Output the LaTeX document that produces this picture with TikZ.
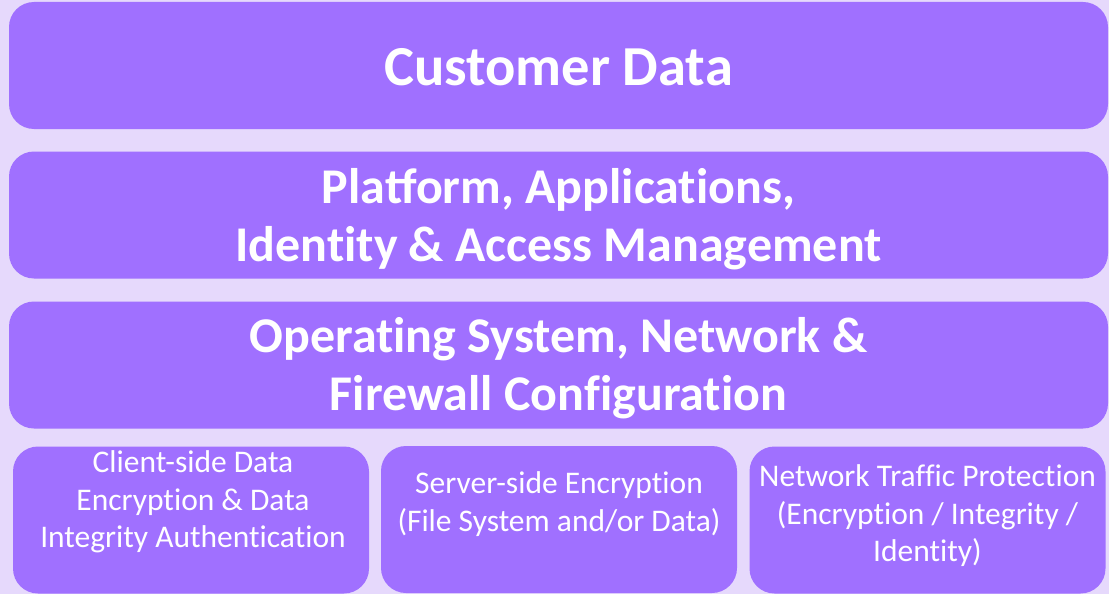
\documentclass[tikz,border=0pt]{standalone}
\usepackage{fontspec}
\setmainfont{Carlito}
\newcommand{\nolig}{\kern0pt}
\definecolor{layerfill}{HTML}{A070FF}
\definecolor{pagebg}{HTML}{E6D9FC}
\begin{document}
\begin{tikzpicture}[x=1pt, y=-1pt,
    layer/.style={fill=layerfill, rounded corners=25pt, inner sep=0pt, minimum width=1099pt, minimum height=127pt},
    sublayer/.style={fill=layerfill, rounded corners=25pt, inner sep=0pt, minimum width=356pt, minimum height=147pt},
    bigtext/.style={text=white, align=center, font=\bfseries\fontsize{50}{57.5}\selectfont, inner sep=0pt},
    smalltext/.style={text=white, align=center, font=\fontsize{31.5}{37.5}\selectfont, inner sep=0pt}]
          \fill [pagebg] (0,0) rectangle (1109,594);
          \useasboundingbox (0,0) rectangle (1109,594);
          \node [layer] (data) at (558.5,65.5) {};
          \node [layer] (platform) at (558.5,215) {};
          \node [layer] (os) at (558.5,365) {};
          \node [sublayer] (client) at (191,520) {};
          \node [sublayer] (server) at (559,519.5) {};
          \node [sublayer] (traffic) at (927.5,520) {};
          \node [bigtext, font=\bfseries\fontsize{56.5}{60}\selectfont] (datatext) at (558.5,67) {Customer Data};
          \node [bigtext] (platformtext) at (558.5,219) {Platform, Applicat\nolig ions,\\Ident\nolig ity \& Access Management};
          \node [bigtext] (ostext) at (558.5,368) {Operat\nolig ing System, Network \&\\Firewall Conf\nolig igurat\nolig ion};
          \node [smalltext] (clienttext) at (193,502) {Client-side Data\\Encrypt\nolig ion \& Data\\Integrity Authent\nolig icat\nolig ion};
          \node [smalltext] (servertext) at (559,504) {Server-side Encrypt\nolig ion\\(File System and/or Data)};
          \node [smalltext] (traffictext) at (927.5,516) {Network Traf\nolig f\nolig ic Protect\nolig ion\\(Encrypt\nolig ion / Integrity /\\Ident\nolig ity)};
        \end{tikzpicture}
\end{document}
